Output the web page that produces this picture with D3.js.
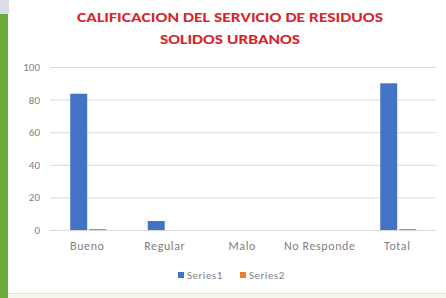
<!DOCTYPE html>
<html><head><meta charset="utf-8">
<script src="https://cdn.jsdelivr.net/npm/d3@7"></script>
<style>body{margin:0;background:#fff}svg{display:block}</style>
</head><body>
<script>
const categories = ["Bueno", "Regular", "Malo", "No Responde", "Total"];
const series1 = [83.6, 5.5, 0, 0, 90];
const series2 = [0.6, 0, 0, 0, 0.6];
const seriesNames = ["Series1", "Series2"];
const yTicks = [0, 20, 40, 60, 80, 100];
const titleLines = ["CALIFICACION DEL SERVICIO DE RESIDUOS", "SOLIDOS URBANOS"];

const W = 446, H = 298;
const svg = d3.select("body").append("svg").attr("width", W).attr("height", H);
// frame decorations
svg.append("rect").attr("x",0).attr("y",0).attr("width",W).attr("height",H).attr("fill","#fff");
svg.append("rect").attr("x",0).attr("y",0).attr("width",9).attr("height",14).attr("fill","#dcdde8");
svg.append("rect").attr("x",0).attr("y",14).attr("width",8).attr("height",H-14).attr("fill","#6aab3a");
svg.append("rect").attr("x",8).attr("y",293).attr("width",W-8).attr("height",5).attr("fill","#f3f8ea");
svg.append("line").attr("x1",8).attr("x2",W).attr("y1",293.5).attr("y2",293.5).attr("stroke","#dcebc8");

const font = "Carlito, Calibri, 'Liberation Sans', Arial, sans-serif";
const x = d3.scaleBand().domain(categories).range([48.5, 436]);
const y = d3.scaleLinear().domain([0, 100]).range([230, 67]);

// title
svg.append("g").selectAll("text").data(titleLines).join("text")
  .attr("x", 230).attr("y", (d,i)=>22 + i*22)
  .attr("text-anchor","middle").attr("fill","#d8232a")
  .attr("font-family", font).attr("font-weight","bold").attr("font-size",13.5)
  .attr("textLength",(d,i)=> i===0 ? 306 : 140).attr("lengthAdjust","spacingAndGlyphs")
  .text(d=>d);

// grid
const yAxis = d3.axisLeft(y).tickValues(yTicks).tickSize(-(436-50)).tickPadding(10);
const gy = svg.append("g").attr("transform","translate(50,0)").call(yAxis);
gy.select(".domain").remove();
gy.selectAll(".tick line").attr("stroke","#d9d9d9").attr("stroke-width",1);
gy.selectAll(".tick text").attr("fill","#7f7f7f").attr("font-family",font).attr("font-size",11);

// bars
const x1 = d3.scaleBand().domain(seriesNames).range([0, 36]).paddingInner(0.11);
const colors = ["#4472c4", "#ed7d31"];
const data = categories.map((c,i)=>({c, vals:[series1[i], series2[i]]}));
const groups = svg.append("g").selectAll("g").data(data).join("g")
  .attr("transform", d=>`translate(${x(d.c)+x.bandwidth()/2-17},0)`);
groups.selectAll("rect").data(d=>d.vals.map((v,j)=>({v,j}))).join("rect")
  .attr("x", d=>x1(seriesNames[d.j])).attr("width", x1.bandwidth())
  .attr("y", d=>y(d.v)).attr("height", d=>y(0)-y(d.v))
  .attr("fill", d=>colors[d.j]);

// x axis
const xAxis = d3.axisBottom(x).tickSize(0).tickPadding(11);
const gx = svg.append("g").attr("transform","translate(0,230)").call(xAxis);
gx.select(".domain").attr("stroke","#d9d9d9").attr("d","M50,0.5H436");
gx.selectAll(".tick text").attr("fill","#7f7f7f").attr("font-family",font)
  .attr("font-size",12).attr("letter-spacing",0.6);

// legend
const leg = svg.append("g");
const lx = [178, 240];
seriesNames.forEach((s,i)=>{
  leg.append("rect").attr("x",lx[i]).attr("y",272).attr("width",6).attr("height",6).attr("fill",colors[i]);
  leg.append("text").attr("x",lx[i]+9).attr("y",279).attr("fill","#7f7f7f")
    .attr("font-family",font).attr("font-size",11).attr("letter-spacing",0.5).text(s);
});
</script>
</body></html>
